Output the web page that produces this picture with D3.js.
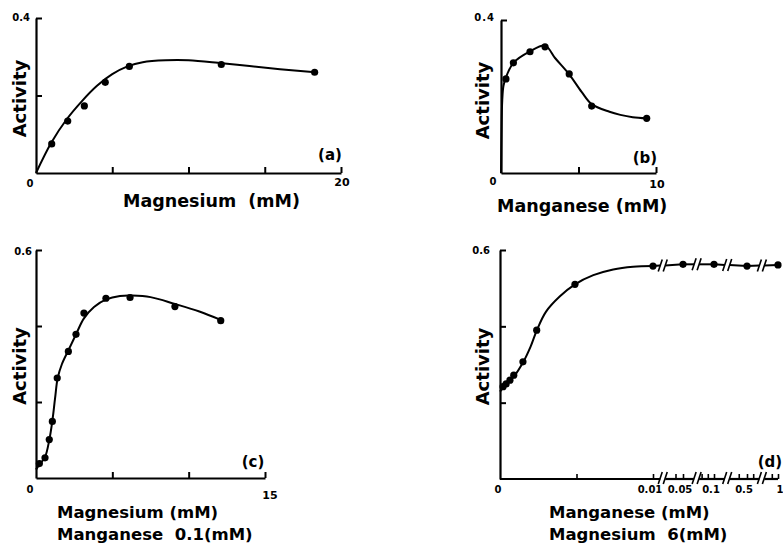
<!DOCTYPE html>
<html><head><meta charset="utf-8">
<script src="https://cdn.jsdelivr.net/npm/d3@7"></script>
<style>
html,body{margin:0;padding:0;background:#fff;}
text{font-family:"DejaVu Sans",Verdana,sans-serif;font-weight:bold;fill:#000;}
</style></head>
<body>
<svg id="c" width="783" height="546"></svg>
<script>
// ---- Panel (a): Activity vs Magnesium (mM)
const aX=[1.03,2.08,3.17,4.54,6.12,12.15,18.27];
const aY=[0.075,0.134,0.173,0.234,0.275,0.280,0.260];
const aFitX=[0,1,2,3,4,5,6,7,8.5,10,12.2,14,16,18.3];
const aFitY=[0,0.078,0.138,0.185,0.225,0.255,0.275,0.286,0.291,0.291,0.283,0.276,0.268,0.26];
const aXTicks=[5,10,15,20], aYTicks=[0.2,0.4];
// ---- Panel (b): Activity vs Manganese (mM)
const bX=[0.32,0.8,1.87,2.84,4.4,5.85,9.4];
const bY=[0.246,0.288,0.317,0.330,0.259,0.175,0.143];
const bFitX=[0,0.03,0.08,0.16,0.32,0.8,1.87,2.84,3.5,4.4,5.2,5.85,7,7.7,8.5,9.4];
const bFitY=[0,0.1,0.19,0.228,0.25,0.288,0.318,0.333,0.3,0.258,0.212,0.18,0.16,0.152,0.146,0.143];
const bXTicks=[5,10], bYTicks=[0.4];
// ---- Panel (c): Magnesium (mM), Manganese 0.1 mM
const cX=[0.22,0.59,0.87,1.07,1.39,2.12,2.62,3.14,4.58,6.16,9.1,12.1];
const cY=[0.038,0.053,0.101,0.149,0.263,0.333,0.378,0.434,0.473,0.475,0.451,0.414];
const cFitX=[0,0.22,0.59,0.87,1.07,1.25,1.42,1.7,2.12,2.62,3.14,3.8,4.6,5.5,6.3,7.5,9.1,10.7,12.1];
const cFitY=[0.022,0.035,0.055,0.1,0.15,0.21,0.263,0.3,0.336,0.378,0.42,0.45,0.47,0.479,0.48,0.476,0.458,0.438,0.416];
const cXTicks=[5,10,15], cYTicks=[0.2,0.4,0.6];
// ---- Panel (d): Manganese (mM), Magnesium 6 mM (broken axis)
const dX=[0.0002,0.0004,0.00065,0.0009,0.0015,0.0024,0.0049,0.01,0.05,0.1,0.5,1];
const dY=[0.242,0.249,0.259,0.272,0.307,0.390,0.510,0.558,0.5625,0.5625,0.558,0.561];
const dFitX=[0,0.0004,0.0009,0.0015,0.002,0.0024,0.003,0.0039,0.0049,0.0061,0.0074,0.0087,0.01];
const dFitY=[0.229,0.249,0.268,0.305,0.347,0.389,0.438,0.478,0.510,0.534,0.549,0.556,0.558];
const dSegs=[0,0.01,0.05,0.1,0.5,1];
const dBreaks=[0.023,0.072,0.26,0.74];
const dXTicks=[0.005,0.01,0.04,0.05,0.08,0.09,0.1,0.4,0.5,0.6,0.9,1];
const dXLabels=["0.01","0.05","0.1","0.5","1"], dXLabelVals=[0.01,0.05,0.1,0.5,1];
const dYTicks=[0.2,0.4,0.6];

const svg=d3.select("#c");

function panel(o){
  const g=svg.append("g");
  const x=o.x, y=o.y;
  // y axis
  const ya=g.append("g").attr("transform",`translate(${x.range()[0]},0)`)
    .call(d3.axisLeft(y).tickValues(o.yTicks).tickSize(-6).tickSizeOuter(0).tickFormat(""));
  ya.select(".domain").attr("stroke-width",2.2);
  ya.selectAll(".tick line").attr("stroke","#000").attr("stroke-width",2);
  // x axis
  if(!o.broken){
    const xa=g.append("g").attr("transform",`translate(0,${y(0)})`)
      .call(d3.axisBottom(x).tickValues(o.xTicks).tickSize(-6).tickSizeOuter(0).tickFormat(""));
    xa.select(".domain").attr("stroke-width",2.2);
    xa.selectAll(".tick line").attr("stroke","#000").attr("stroke-width",2);
  }
  // curve
  const fit=o.fitX.map((v,i)=>[v,o.fitY[i]]);
  g.append("path").datum(fit).attr("fill","none").attr("stroke","#000").attr("stroke-width",2)
    .attr("d",d3.line().x(d=>x(d[0])).y(d=>y(d[1])).curve(d3.curveCatmullRom.alpha(0.5)));
  // points
  g.selectAll("circle.p").data(o.px.map((v,i)=>[v,o.py[i]])).join("circle")
    .attr("cx",d=>x(d[0])).attr("cy",d=>y(d[1])).attr("r",3.6).attr("fill","#000");
  return g;
}

// (a)
const xa=d3.scaleLinear([0,20],[36,341]), ya=d3.scaleLinear([0,0.4],[173,18]);
const ga=panel({x:xa,y:ya,xTicks:aXTicks,yTicks:aYTicks,fitX:aFitX,fitY:aFitY,px:aX,py:aY});
ga.append("text").attr("x",xa(0)-6).attr("y",ya(0)+14).attr("text-anchor","middle").attr("font-size",10).text("0");
ga.append("text").attr("x",xa(20)+1).attr("y",ya(0)+13).attr("text-anchor","middle").attr("font-size",11).text("20");
ga.append("text").attr("x",xa(0)-6).attr("y",ya(0.4)+3).attr("text-anchor","end").attr("font-size",10).text("0.4");
ga.append("text").attr("transform",`translate(${xa(0)-10},${ya(0.2)+3}) rotate(-90)`).attr("text-anchor","middle").attr("font-size",18).text("Activity");
ga.append("text").attr("x",xa(20)-11).attr("y",ya(0)-13).attr("text-anchor","middle").attr("font-size",15).attr("font-weight","normal").text("(a)");
ga.append("text").attr("x",123).attr("y",ya(0)+34).attr("font-size",17.5).attr("xml:space","preserve").text("Magnesium  (mM)");

// (b)
const xb=d3.scaleLinear([0,10],[501,656]), yb=d3.scaleLinear([0,0.4],[173,20]);
const gb=panel({x:xb,y:yb,xTicks:bXTicks,yTicks:bYTicks,fitX:bFitX,fitY:bFitY,px:bX,py:bY});
gb.append("text").attr("x",xb(0)-8).attr("y",yb(0)+12).attr("text-anchor","middle").attr("font-size",10).text("0");
gb.append("text").attr("x",xb(10)+1).attr("y",yb(0)+15).attr("text-anchor","middle").attr("font-size",11).text("10");
gb.append("text").attr("x",xb(0)-6).attr("y",yb(0.4)+1).attr("text-anchor","end").attr("font-size",10).attr("letter-spacing",1).text("0.4");
gb.append("text").attr("transform",`translate(${xb(0)-12},${yb(0.2)+4}) rotate(-90)`).attr("text-anchor","middle").attr("font-size",18).text("Activity");
gb.append("text").attr("x",xb(10)-11).attr("y",yb(0)-10).attr("text-anchor","middle").attr("font-size",15).attr("font-weight","normal").text("(b)");
gb.append("text").attr("x",497).attr("y",yb(0)+39).attr("font-size",17.5).text("Manganese (mM)");

// (c)
const xc=d3.scaleLinear([0,15],[36,265]), yc=d3.scaleLinear([0,0.6],[478,250]);
const gc=panel({x:xc,y:yc,xTicks:cXTicks,yTicks:cYTicks,fitX:cFitX,fitY:cFitY,px:cX,py:cY});
gc.append("text").attr("x",xc(0)-6).attr("y",yc(0)+15).attr("text-anchor","middle").attr("font-size",10).text("0");
gc.append("text").attr("x",xc(15)+5).attr("y",yc(0)+21).attr("text-anchor","middle").attr("font-size",11).text("15");
gc.append("text").attr("x",xc(0)-4).attr("y",yc(0.6)+5).attr("text-anchor","end").attr("font-size",10).text("0.6");
gc.append("text").attr("transform",`translate(${xc(0)-10},${yc(0.3)+2}) rotate(-90)`).attr("text-anchor","middle").attr("font-size",18).text("Activity");
gc.append("text").attr("x",xc(15)-12).attr("y",yc(0)-11).attr("text-anchor","middle").attr("font-size",15).attr("font-weight","normal").text("(c)");
gc.append("text").attr("x",57).attr("y",518).attr("font-size",16.5).text("Magnesium (mM)");
gc.append("text").attr("x",57).attr("y",540).attr("font-size",16.5).attr("xml:space","preserve").text("Manganese  0.1(mM)");

// (d)
const xd=d3.scaleLinear(dSegs,[500,653,683,714,747,778]), yd=d3.scaleLinear([0,0.6],[479,250]);
const gd=panel({x:xd,y:yd,broken:true,yTicks:dYTicks,fitX:dFitX,fitY:dFitY,px:dX,py:dY});
// bottom axis: ticks + segmented baseline
const xda=gd.append("g").attr("transform",`translate(0,${yd(0)})`)
  .call(d3.axisBottom(xd).tickValues(dXTicks).tickSize(-5).tickSizeOuter(0).tickFormat(""));
xda.select(".domain").remove();
xda.selectAll(".tick line").attr("stroke","#000").attr("stroke-width",1.6);
const gap=2.5;
const edges=[xd(0)].concat(...dBreaks.map(b=>[xd(b)-gap,xd(b)+gap])).concat([xd(1)]);
for(let i=0;i<edges.length;i+=2){
  gd.append("line").attr("x1",edges[i]).attr("x2",edges[i+1]).attr("y1",yd(0)).attr("y2",yd(0)).attr("stroke","#000").attr("stroke-width",2.2);
}
// plateau line (top), segmented at breaks
const plat=dX.map((v,i)=>[v,dY[i]]).filter(d=>d[0]>=0.01);
const pInterp=v=>{for(let i=0;i<plat.length-1;i++){if(v>=plat[i][0]&&v<=plat[i+1][0]){const t=(xd(v)-xd(plat[i][0]))/(xd(plat[i+1][0])-xd(plat[i][0]));return plat[i][1]+t*(plat[i+1][1]-plat[i][1]);}}return plat[plat.length-1][1];};
for(let i=0;i<plat.length-1;i++){
  const b=dBreaks[i];
  const yb1=yd(pInterp(b));
  gd.append("line").attr("x1",xd(plat[i][0])).attr("y1",yd(plat[i][1])).attr("x2",xd(b)-gap).attr("y2",yb1).attr("stroke","#000").attr("stroke-width",2);
  gd.append("line").attr("x1",xd(b)+gap).attr("y1",yb1).attr("x2",xd(plat[i+1][0])).attr("y2",yd(plat[i+1][1])).attr("stroke","#000").attr("stroke-width",2);
}
// break marks
function brk(cx,cy){
  [-gap,gap].forEach(o=>{
    gd.append("line").attr("x1",cx+o-2).attr("y1",cy+6).attr("x2",cx+o+2).attr("y2",cy-6).attr("stroke","#000").attr("stroke-width",1.6);
  });
}
dBreaks.forEach(b=>{brk(xd(b),yd(pInterp(b)));brk(xd(b),yd(0)-1);});
gd.selectAll("text.xl").data(dXLabels).join("text").attr("class","xl")
  .attr("x",(d,i)=>xd(dXLabelVals[i])-(i===4?-2:3)).attr("y",yd(0)+14).attr("text-anchor","middle").attr("font-size",10).text(d=>d);
gd.append("text").attr("x",xd(0)-2).attr("y",yd(0)+14).attr("text-anchor","middle").attr("font-size",10).text("0");
gd.append("text").attr("x",xd(0)-10).attr("y",yd(0.6)+4).attr("text-anchor","end").attr("font-size",10).text("0.6");
gd.append("text").attr("transform",`translate(${xd(0)-11},${yd(0.3)+2}) rotate(-90)`).attr("text-anchor","middle").attr("font-size",18).text("Activity");
gd.append("text").attr("x",xd(1)-8).attr("y",yd(0)-12).attr("text-anchor","middle").attr("font-size",15).attr("font-weight","normal").text("(d)");
gd.append("text").attr("x",549).attr("y",518).attr("font-size",16.5).text("Manganese (mM)");
gd.append("text").attr("x",549).attr("y",540).attr("font-size",16.5).attr("xml:space","preserve").text("Magnesium  6(mM)");
</script>
</body></html>
